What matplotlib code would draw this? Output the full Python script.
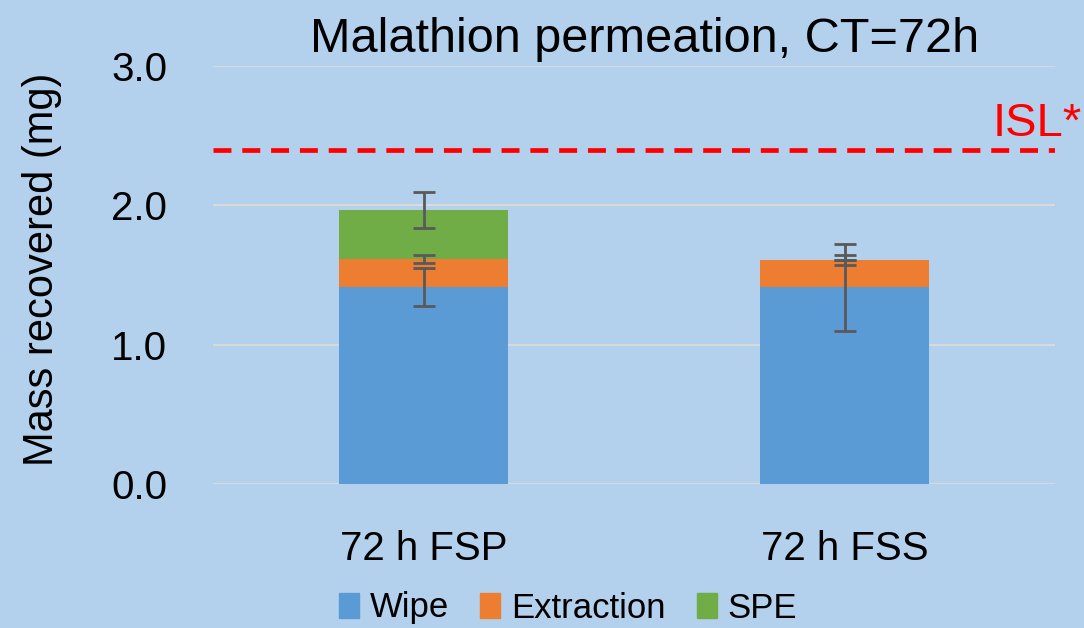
import matplotlib
matplotlib.use("Agg")
import matplotlib.pyplot as plt
from matplotlib.patches import Patch
import numpy as np

# data
categories = ['72 h FSP', '72 h FSS']
wipe = [1.415, 1.412]
extraction = [0.200, 0.196]
spe = [0.351, 0.0]
wipe_err = [0.138, 0.314]
extraction_err = [0.032, 0.034]
spe_err = [0.128, 0.0]
isl_value = 2.4

bg = '#B3D1EC'
c_wipe = '#5B9BD5'
c_extr = '#ED7D31'
c_spe = '#70AD47'
err_col = '#595959'

plt.rcParams['font.family'] = ['Liberation Sans', 'DejaVu Sans']

fig = plt.figure(figsize=(10.84, 6.28), dpi=100, facecolor=bg)
ax = fig.add_axes([213/1084, 1-484/628, 842/1084, 418/628])
ax.set_facecolor(bg)

x = np.arange(len(categories))
w = 0.40
wipe = np.array(wipe)
extraction = np.array(extraction)
spe = np.array(spe)

ax.bar(x, wipe, w, color=c_wipe, zorder=2)
ax.bar(x, extraction, w, bottom=wipe, color=c_extr, zorder=2)
ax.bar(x, spe, w, bottom=wipe + extraction, color=c_spe, zorder=2)

ekw = dict(fmt='none', ecolor=err_col, elinewidth=2, capsize=8, capthick=2, zorder=3)
ax.errorbar(x, wipe, yerr=wipe_err, **ekw)
ax.errorbar(x, wipe + extraction, yerr=extraction_err, **ekw)
ax.errorbar(x, wipe + extraction + spe, yerr=spe_err, **ekw)

# ISL line
ax.axhline(isl_value, color='#FF0000', lw=3.4, dashes=(3.8, 2.3), zorder=2)
fig.text(1082/1084, 1-136/628, 'ISL*', color='#FF0000', fontsize=34,
         ha='right', va='baseline')

ax.set_xlim(-0.5, 1.5)
ax.set_ylim(0, 3.0)
ax.set_yticks([0, 1, 2, 3])
ax.set_yticklabels(['0.0', '1.0', '2.0', '3.0'])
ax.set_xticks(x)
ax.set_xticklabels(categories)
ax.yaxis.grid(True, color='#D9D9D9', lw=1.5, zorder=0)
ax.set_axisbelow(True)
for s in ax.spines.values():
    s.set_visible(False)
ax.tick_params(axis='both', length=0, labelsize=29, pad=33)

ax.set_ylabel('Mass recovered (mg)', fontsize=30)
ax.yaxis.set_label_coords(-0.179, 0.514)

fig.text(645/1084, 1-52/628, 'Malathion permeation, CT=72h', fontsize=35,
         ha='center', va='baseline')

handles = [Patch(color=c_wipe, label='Wipe'),
           Patch(color=c_extr, label='Extraction'),
           Patch(color=c_spe, label='SPE')]
fig.legend(handles=handles, loc='center', bbox_to_anchor=(568/1084, 1-608/628),
           ncol=3, frameon=False, prop={'size': 25},
           handlelength=0.58, handleheight=0.75, handletextpad=0.3,
           columnspacing=0.9, borderpad=0, borderaxespad=0)

fig.savefig('out.png', dpi=100, facecolor=bg)
